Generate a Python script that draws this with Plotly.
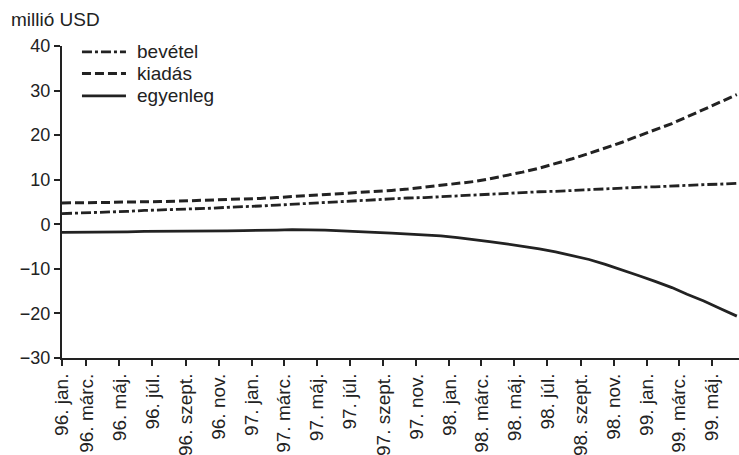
import plotly.graph_objects as go

# Monthly series, 1996 Jan .. 1999 Jun (million USD), plotted at mid-month
months = [f"{y}-{m:02d}-16" for y in range(1996, 2000) for m in range(1, 13)][:42]

bevetel = [2.4, 2.5, 2.6, 2.8, 2.9, 3.1, 3.2, 3.4, 3.5, 3.6, 3.8, 3.9,
           4.1, 4.3, 4.5, 4.7, 4.9, 5.1, 5.3, 5.5, 5.7, 5.9, 6.0, 6.2,
           6.4, 6.6, 6.8, 6.9, 7.1, 7.3, 7.4, 7.6, 7.8, 7.9, 8.1, 8.3,
           8.4, 8.6, 8.7, 8.9, 9.0, 9.2]

kiadas = [4.8, 4.8, 4.9, 4.9, 5.0, 5.0, 5.1, 5.2, 5.3, 5.4, 5.5, 5.6,
          5.8, 6.0, 6.2, 6.4, 6.6, 6.8, 7.0, 7.3, 7.6, 7.9, 8.3, 8.7,
          9.1, 9.6, 10.2, 10.9, 11.7, 12.6, 13.6, 14.7, 15.9, 17.1, 18.4, 19.8,
          21.2, 22.6, 24.1, 25.7, 27.4, 29.1]

egyenleg = [-1.8, -1.8, -1.7, -1.7, -1.7, -1.6, -1.6, -1.6, -1.5, -1.5, -1.5, -1.4,
            -1.4, -1.3, -1.2, -1.2, -1.3, -1.5, -1.6, -1.8, -2.0, -2.2, -2.4, -2.6,
            -3.0, -3.4, -3.9, -4.4, -4.9, -5.5, -6.2, -7.0, -7.9, -9.0, -10.2, -11.5,
            -12.8, -14.2, -15.7, -17.2, -18.9, -20.6]

# Tick positions and Hungarian month labels (every second month)
tick_dates = ["1996-01-16"] + [f"{y}-{m:02d}-01" for y in range(1996, 2000)
                               for m in (1, 3, 5, 7, 9, 11)][1:21]
month_names = ["jan.", "márc.", "máj.", "júl.", "szept.", "nov."]
tick_labels = [f"{y % 100:02d}. {n}" for y in range(1996, 2000) for n in month_names][:21]

INK = "#222222"
FONT = "Liberation Sans, Arial, sans-serif"

series = [
    ("bevétel", bevetel, dict(color=INK, width=2.8, dash="10px,3px,3px,3px")),
    ("kiadás", kiadas, dict(color=INK, width=3, dash="9px,4px")),
    ("egyenleg", egyenleg, dict(color=INK, width=2.8)),
]

fig = go.Figure()
for name, values, line in series:
    fig.add_trace(go.Scatter(x=months, y=values, name=name, mode="lines",
                             line=line, showlegend=False))

# Key in the upper-left corner: a line sample and a label per series
key_rows = [0.981, 0.912, 0.840]
shapes, annotations = [], []
for (name, _, line), ky in zip(series, key_rows):
    shapes.append(dict(type="line", xref="paper", yref="paper",
                       x0=0.0295, x1=0.0945, y0=ky, y1=ky, line=line))
    annotations.append(dict(text=name, xref="paper", yref="paper",
                            x=0.108, y=ky, xanchor="left", yanchor="middle",
                            showarrow=False, font=dict(size=19, color=INK)))
annotations.append(dict(text="millió USD", xref="paper", yref="paper",
                        x=-0.078, y=1.085, xanchor="left", yanchor="middle",
                        showarrow=False, font=dict(size=19, color=INK)))

fig.update_layout(
    width=739, height=455,
    margin=dict(l=62, r=0, t=46, b=97),
    paper_bgcolor="white", plot_bgcolor="white",
    font=dict(family=FONT, size=18, color=INK),
    xaxis=dict(type="date", range=["1996-01-16", "1999-06-20"],
               tickmode="array", tickvals=tick_dates, ticktext=tick_labels,
               tickangle=-90, ticks="outside", ticklen=6, tickwidth=1.5,
               tickcolor=INK, showline=True, linecolor=INK, linewidth=2,
               showgrid=False, zeroline=False, tickfont=dict(size=19)),
    yaxis=dict(range=[-30, 40], tickmode="array",
               tickvals=[-30, -20, -10, 0, 10, 20, 30, 40],
               ticks="outside", ticklen=6, tickwidth=1.5, tickcolor=INK,
               showline=True, linecolor=INK, linewidth=2,
               showgrid=False, zeroline=False, tickfont=dict(size=18)),
    shapes=shapes,
    annotations=annotations,
)

fig.write_html("out.html")
